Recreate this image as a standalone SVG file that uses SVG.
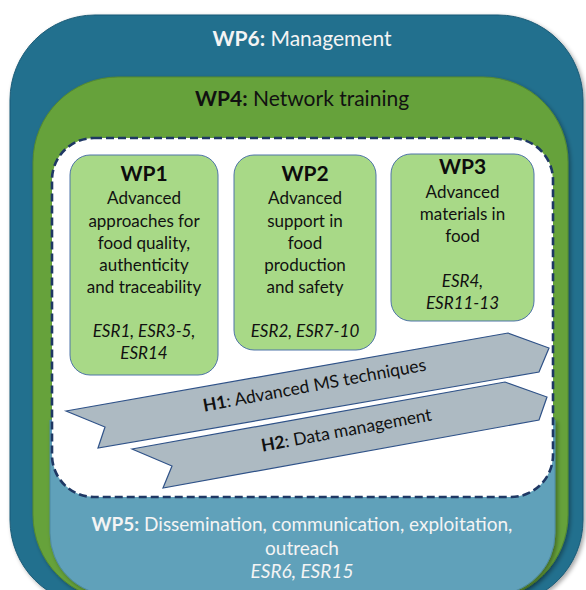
<svg xmlns="http://www.w3.org/2000/svg" width="586" height="590" viewBox="0 0 586 590">
  <defs>
    <filter id="shadow" x="-5%" y="-5%" width="112%" height="112%">
      <feDropShadow dx="2" dy="2" stdDeviation="2" flood-color="#000" flood-opacity="0.35"/>
    </filter>
    <style>
      text { font-family: Lato, "Open Sans", "Liberation Sans", sans-serif; text-anchor: middle; }
      .title { font-size: 21px; }
      .wp5t { font-size: 19px; }
      .light { fill: #f4f4f4; }
      .dark { fill: #111; }
      .b { font-weight: bold; }
      .wp { fill: #a8d987; stroke: #4f74a8; stroke-width: 1; }
      .wph { font-size: 21px; font-weight: bold; fill: #0d0d0d; }
      .body { font-size: 17px; fill: #111; }
      .esr { font-style: italic; }
      .band { fill: #adbac2; stroke: #2f5288; stroke-width: 1.2; stroke-linejoin: miter; }
      .hl { font-size: 17.5px; fill: #111; }
    </style>
  </defs>

  <!-- WP6: outermost frame -->
  <g id="wp6">
    <rect x="10" y="15" width="573" height="590" rx="85" fill="#216f8e" stroke="#1b5b76" stroke-width="1" filter="url(#shadow)"/>
    <text class="title light" x="302" y="46"><tspan class="b">WP6:</tspan> Management</text>
  </g>

  <!-- WP4: training frame -->
  <g id="wp4">
    <rect x="33" y="77" width="535" height="523" rx="85" fill="#66a23a" stroke="#55892f" stroke-width="1" filter="url(#shadow)"/>
    <text class="title dark" x="302" y="106"><tspan class="b">WP4:</tspan> Network training</text>
  </g>

  <!-- WP5: dissemination panel, top edge hidden under the research area -->
  <g id="wp5">
    <path d="M50 420 H555 V533 A62 62 0 0 1 493 595 H112 A62 62 0 0 1 50 533 Z" fill="#60a1ba" stroke="#4f8aa3" stroke-width="1" filter="url(#shadow)"/>
    <text class="wp5t light" x="302" y="531"><tspan class="b">WP5:</tspan> Dissemination, communication, exploitation,</text>
    <text class="wp5t light" x="302" y="555">outreach</text>
    <text class="wp5t light esr" x="302" y="578">ESR6, ESR15</text>
  </g>

  <!-- research area -->
  <g id="research">
    <rect x="52" y="138" width="501" height="359" rx="42" fill="#fff" stroke="#1f3864" stroke-width="2.6" stroke-dasharray="8 4"/>
  </g>

  <g id="wp1">
    <rect class="wp" x="70" y="155" width="148" height="220" rx="20"/>
    <text class="wph" x="144" y="181">WP1</text>
    <text class="body" x="144" y="204">Advanced</text>
    <text class="body" x="144" y="227">approaches for</text>
    <text class="body" x="144" y="249">food quality,</text>
    <text class="body" x="144" y="271">authenticity</text>
    <text class="body" x="144" y="293">and traceability</text>
    <text class="body esr" x="144" y="337">ESR1, ESR3-5,</text>
    <text class="body esr" x="144" y="359">ESR14</text>
  </g>

  <g id="wp2">
    <rect class="wp" x="234" y="155" width="142" height="195" rx="20"/>
    <text class="wph" x="305" y="181">WP2</text>
    <text class="body" x="305" y="204">Advanced</text>
    <text class="body" x="305" y="227">support in</text>
    <text class="body" x="305" y="249">food</text>
    <text class="body" x="305" y="271">production</text>
    <text class="body" x="305" y="293">and safety</text>
    <text class="body esr" x="305" y="337">ESR2, ESR7-10</text>
  </g>

  <g id="wp3">
    <rect class="wp" x="391" y="154" width="143" height="167" rx="20"/>
    <text class="wph" x="462.5" y="174">WP3</text>
    <text class="body" x="462.5" y="198">Advanced</text>
    <text class="body" x="462.5" y="220">materials in</text>
    <text class="body" x="462.5" y="242">food</text>
    <text class="body esr" x="462.5" y="287">ESR4,</text>
    <text class="body esr" x="462.5" y="309">ESR11-13</text>
  </g>

  <!-- horizontal themes as slanted chevron bands -->
  <g id="h1">
    <polygon class="band" points="66,411 508,333 549,348 539,372 98,448 105,427"/>
    <text class="hl" transform="translate(315.5 391) rotate(-10.5)"><tspan class="b">H1</tspan>: Advanced MS techniques</text>
  </g>

  <g id="h2">
    <polygon class="band" points="132,449 505,382 547,397 539,420 163,488 172,466"/>
    <text class="hl" transform="translate(347.5 436) rotate(-10.5)"><tspan class="b">H2</tspan>: Data management</text>
  </g>

  <g id="connectors"/>
</svg>
